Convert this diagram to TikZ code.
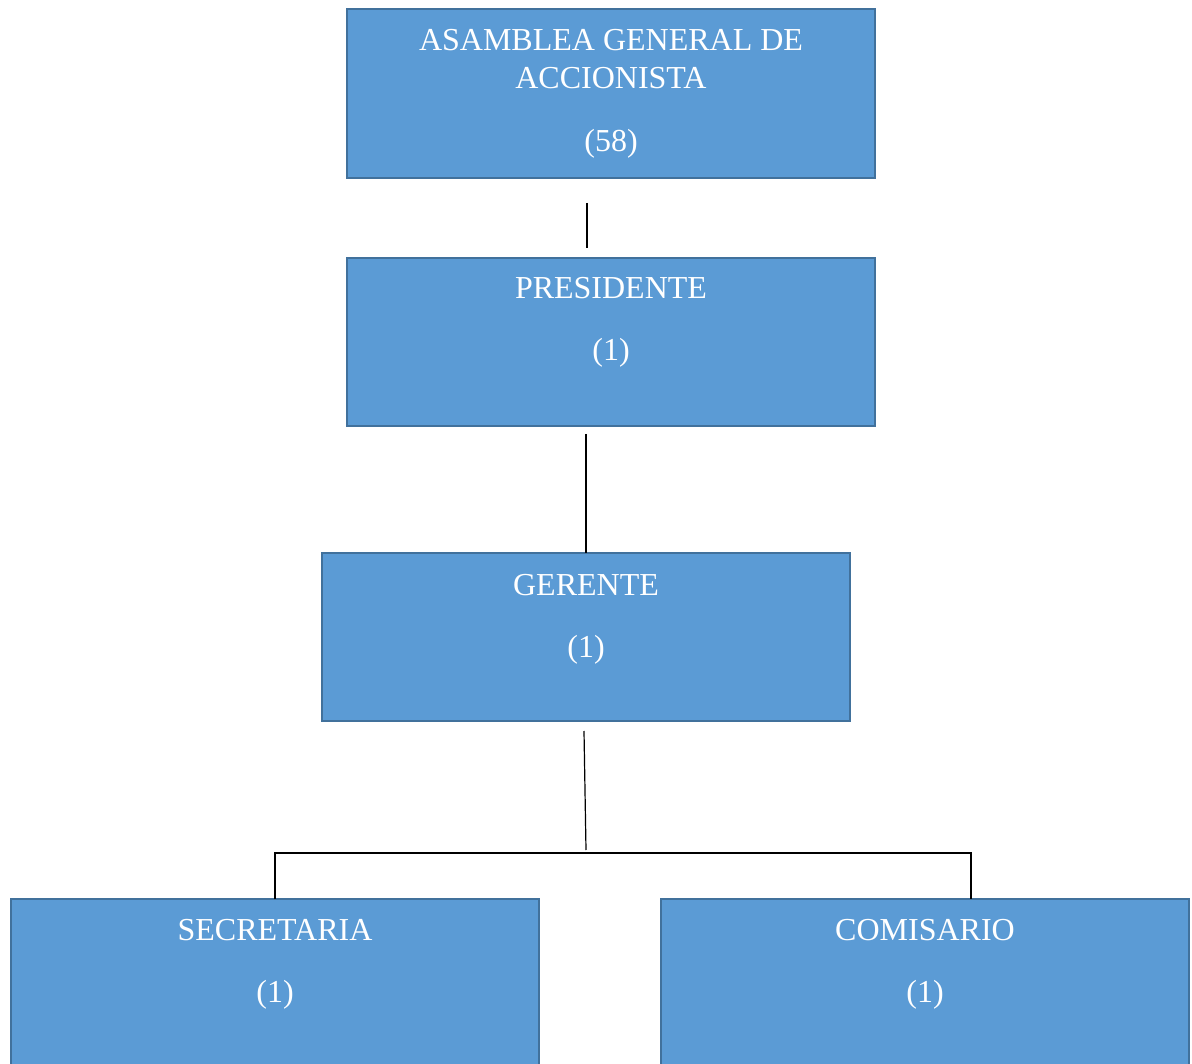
\documentclass[tikz,border=0pt]{standalone}
\usepackage{fontspec}
\setmainfont{Liberation Serif}
\definecolor{boxfill}{HTML}{5B9BD5}
\definecolor{boxline}{HTML}{41719C}
\begin{document}
\begin{tikzpicture}[x=1pt,y=-1pt,
  orgbox/.style={draw=boxline,fill=boxfill,line width=2.6pt,rectangle},
  lbl/.style={text=white,font=\fontsize{32}{38}\selectfont,anchor=base,inner sep=0pt},
  link/.style={draw=black,line width=1.2pt}]
\useasboundingbox (0,0) rectangle (1192,1064);

% boxes
\draw[orgbox] (347,9) rectangle (875,178);
\draw[orgbox] (347,258) rectangle (875,426);
\draw[orgbox] (322,553) rectangle (850,721);
\draw[orgbox] (11,899) rectangle (539,1075);
\draw[orgbox] (661,899) rectangle (1189,1075);

% labels
\node[lbl] (t1) at (611,51) {ASAMBLEA GENERAL DE};
\node[lbl] (t2) at (611,89) {ACCIONISTA};
\node[lbl] (t3) at (611,152) {(58)};
\node[lbl] (p1) at (611,299) {PRESIDENTE};
\node[lbl] (p2) at (611,361) {(1)};
\node[lbl] (g1) at (586,595) {GERENTE};
\node[lbl] (g2) at (586,657) {(1)};
\node[lbl] (s1) at (275,940) {SECRETARIA};
\node[lbl] (s2) at (275,1002) {(1)};
\node[lbl] (c1) at (925,940) {COMISARIO};
\node[lbl] (c2) at (925,1002) {(1)};

% connectors
\coordinate (a1) at (587,203);
\coordinate (a2) at (587,248);
\coordinate (b1) at (586,434);
\coordinate (b2) at (586,553);
\coordinate (d1) at (584,731);
\coordinate (d2) at (586,850);
\coordinate (hl) at (275,853);
\coordinate (hr) at (971,853);
\coordinate (sl) at (275,899);
\coordinate (sr) at (971,899);
\draw[link] (a1) -- (a2);
\draw[link] (b1) -- (b2);
\draw[link] (d1) -- (d2);
\draw[link] (sl) -- (hl) -- (hr) -- (sr);
\end{tikzpicture}
\end{document}
